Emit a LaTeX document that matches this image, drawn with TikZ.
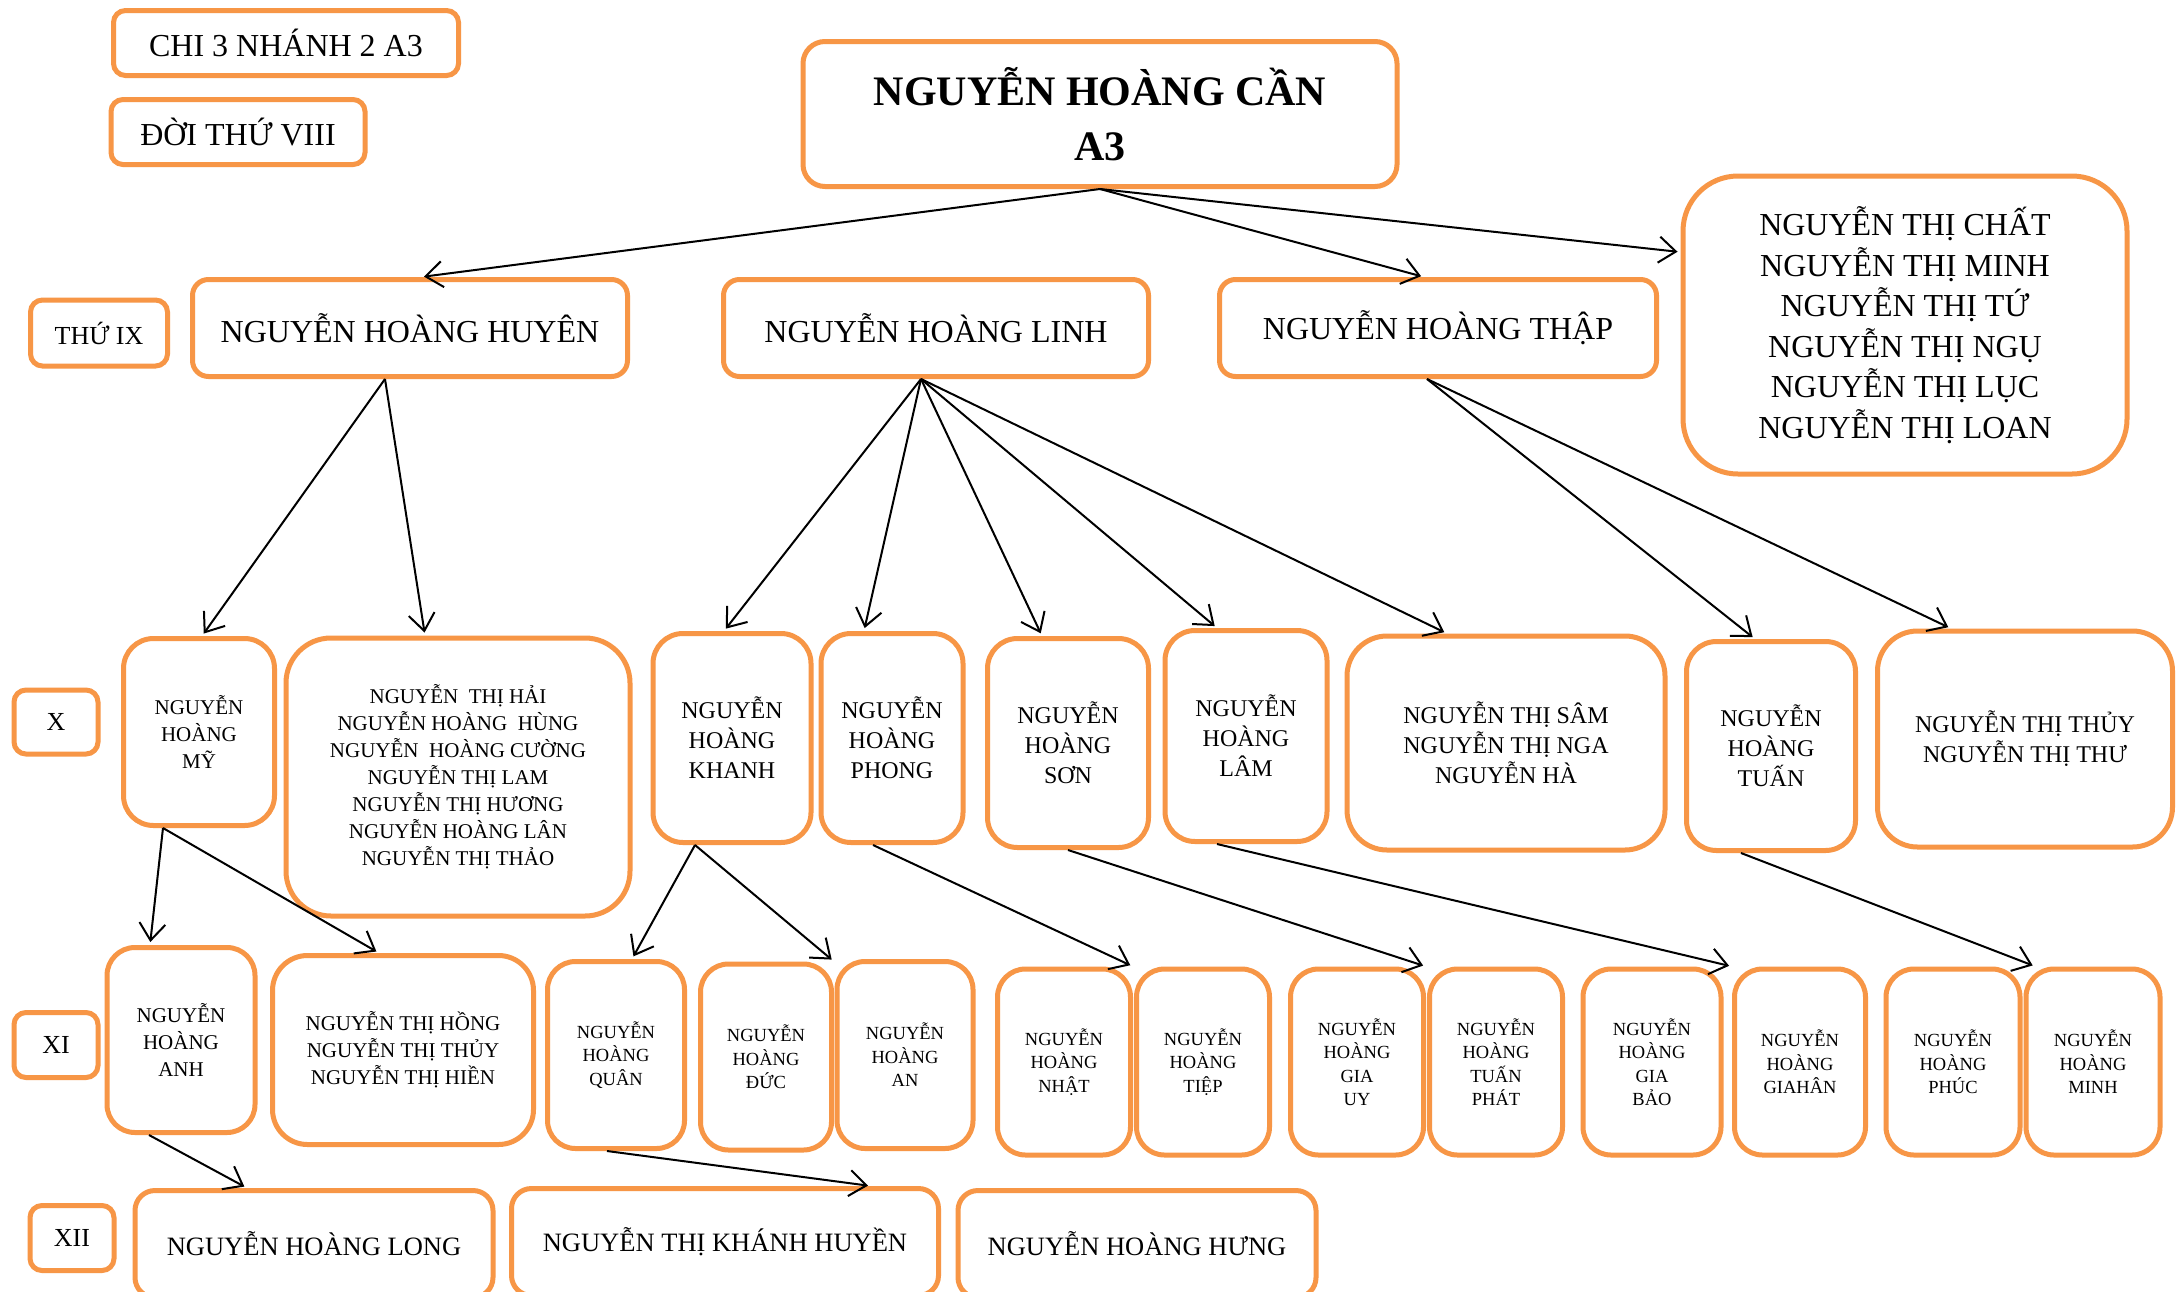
\documentclass[tikz,border=0pt]{standalone}
\usepackage{fontspec}
\setmainfont{Liberation Serif}
\usepackage{xcolor}
\usepackage{tikz}
\usetikzlibrary{positioning,arrows.meta}

\definecolor{boxorange}{HTML}{F79646}
\tikzset{
  box/.style={draw=boxorange, line width=5pt, rounded corners=#1, align=center, inner sep=2pt},
  box/.default=28pt,
  arr/.style={->, line width=2pt, shorten >=3pt},
  roottxt/.style={font=\bfseries\fontsize{42}{55}\selectfont},
  gentxt/.style={font=\fontsize{32}{40.5}\selectfont},
  lbltxt/.style={font=\fontsize{26}{32}\selectfont},
  xtxt/.style={font=\fontsize{24}{30}\selectfont},
  xstxt/.style={font=\fontsize{21}{27}\selectfont},
  xitxt/.style={font=\fontsize{18.5}{23.5}\selectfont},
  xiitxt/.style={font=\fontsize{26.5}{32}\selectfont},
}

\begin{document}
\begin{tikzpicture}[x=1pt, y=-1pt, >={Straight Barb[length=17pt,width=26pt]}]
            \path[fill=white, use as bounding box] (0,0) rectangle (2179,1291);
            \clip (0,0) rectangle (2179,1291);

            \node[box=12pt, gentxt, minimum width=345pt, minimum height=65pt] (cap) at (286,43) {CHI 3 NHÁNH 2 A3};
            \node[box=12pt, gentxt, minimum width=254pt, minimum height=65pt] (doi) at (238,132) {ĐỜI THỨ VIII};
            \node[box=22pt, roottxt, minimum width=594pt, minimum height=145pt] (root) at (1100,114) {NGUYỄN HOÀNG CẦN\\A3};
            \node[box=55pt, gentxt, minimum width=444pt, minimum height=298pt] (sisters) at (1905,325) {NGUYỄN THỊ CHẤT\\NGUYỄN THỊ MINH\\NGUYỄN THỊ TỨ\\NGUYỄN THỊ NGỤ\\NGUYỄN THỊ LỤC\\NGUYỄN THỊ LOAN};

            \node[box=12pt, lbltxt, minimum width=137pt, minimum height=66pt] (lblIX) at (99,333) {THỨ IX};
            \node[box=16pt, gentxt, minimum width=435pt, minimum height=97pt] (huyen) at (410,328) {NGUYỄN HOÀNG HUYÊN};
            \node[box=16pt, gentxt, minimum width=425pt, minimum height=97pt] (linh) at (936,328) {NGUYỄN HOÀNG LINH};
            \node[box=16pt, gentxt, minimum width=437pt, minimum height=97pt] (thap) at (1438,328) {NGUYỄN HOÀNG THẬP};

            \node[box=12pt, lbltxt, minimum width=84pt, minimum height=64pt] (lblX) at (56,722) {X};
            \node[box=30pt, xstxt, minimum width=151pt, minimum height=187pt] (my) at (199,732) {NGUYỄN\\HOÀNG\\MỸ};
            \node[box=45pt, xstxt, minimum width=344pt, minimum height=278pt] (hai) at (458,777) {NGUYỄN\ \ THỊ HẢI\\NGUYỄN HOÀNG\ \ HÙNG\\NGUYỄN\ \ HOÀNG CƯỜNG\\NGUYỄN THỊ LAM\\NGUYỄN THỊ HƯƠNG\\NGUYỄN HOÀNG LÂN\\NGUYỄN THỊ THẢO};
            \node[box=30pt, xtxt, minimum width=158pt, minimum height=209pt] (khanh) at (732,738) {NGUYỄN\\HOÀNG\\KHANH};
            \node[box=30pt, xtxt, minimum width=142pt, minimum height=209pt] (phong) at (892,738) {NGUYỄN\\HOÀNG\\PHONG};
            \node[box=30pt, xtxt, minimum width=161pt, minimum height=209pt] (son) at (1068,743) {NGUYỄN\\HOÀNG\\SƠN};
            \node[box=30pt, xtxt, minimum width=162pt, minimum height=211pt] (lam) at (1246,736) {NGUYỄN\\HOÀNG\\LÂM};
            \node[box=40pt, xtxt, minimum width=318pt, minimum height=214pt] (sam) at (1506,743) {NGUYỄN THỊ SÂM\\NGUYỄN THỊ NGA\\NGUYỄN HÀ};
            \node[box=30pt, xtxt, minimum width=169pt, minimum height=209pt] (tuan) at (1771,746) {NGUYỄN\\HOÀNG\\TUẤN};
            \node[box=40pt, xtxt, minimum width=295pt, minimum height=216pt] (thuy) at (2025,739) {NGUYỄN THỊ THỦY\\NGUYỄN THỊ THƯ};

            \node[box=12pt, lbltxt, minimum width=84pt, minimum height=65pt] (lblXI) at (56,1045) {XI};
            \node[box=28pt, xstxt, minimum width=148pt, minimum height=185pt] (anh) at (181,1040) {NGUYỄN\\HOÀNG\\ANH};
            \node[box=35pt, xstxt, minimum width=261pt, minimum height=189pt] (hong) at (403,1050) {NGUYỄN THỊ HỒNG\\NGUYỄN THỊ THỦY\\NGUYỄN THỊ HIỀN};
            \node[box, xitxt, minimum width=137pt, minimum height=187pt] (quan) at (616,1055) {NGUYỄN\\HOÀNG\\QUÂN};
            \node[box, xitxt, minimum width=131pt, minimum height=186pt] (duc) at (766,1057) {NGUYỄN\\HOÀNG\\ĐỨC};
            \node[box, xitxt, minimum width=136pt, minimum height=187pt] (an) at (905,1055) {NGUYỄN\\HOÀNG\\AN};
            \node[box, xitxt, minimum width=133pt, minimum height=186pt] (nhat) at (1064,1062) {NGUYỄN\\HOÀNG\\NHẬT};
            \node[box, xitxt, minimum width=133pt, minimum height=186pt] (tiep) at (1203,1062) {NGUYỄN\\HOÀNG\\TIỆP};
            \node[box, xitxt, minimum width=133pt, minimum height=186pt] (giauy) at (1357,1062) {NGUYỄN\\HOÀNG\\GIA\\UY};
            \node[box, xitxt, minimum width=133pt, minimum height=186pt] (tuanphat) at (1496,1062) {NGUYỄN\\HOÀNG\\TUẤN\\PHÁT};
            \node[box, xitxt, minimum width=138pt, minimum height=186pt] (giabao) at (1652,1062) {NGUYỄN\\HOÀNG\\GIA\\BẢO};
            \node[box, xitxt, minimum width=131pt, minimum height=186pt] (giahan) at (1800,1062) {NGUYỄN\\HOÀNG\\GIAHÂN};
            \node[box, xitxt, minimum width=134pt, minimum height=186pt] (phuc) at (1953,1062) {NGUYỄN\\HOÀNG\\PHÚC};
            \node[box, xitxt, minimum width=134pt, minimum height=186pt] (minh) at (2093,1062) {NGUYỄN\\HOÀNG\\MINH};

            \node[box=12pt, lbltxt, minimum width=84pt, minimum height=65pt] (lblXII) at (72,1238) {XII};
            \node[box=20pt, xiitxt, minimum width=358pt, minimum height=107pt] (long) at (314,1244) {NGUYỄN HOÀNG LONG};
            \node[box=20pt, xiitxt, minimum width=427pt, minimum height=107pt] (khuyen) at (725,1242) {NGUYỄN THỊ KHÁNH HUYỀN};
            \node[box=20pt, xiitxt, minimum width=358pt, minimum height=107pt] (hung) at (1137,1244) {NGUYỄN HOÀNG HƯNG};

            \draw[arr] (root.south) -- ([xshift=11pt]huyen.north);
            \draw[arr] (root.south) -- ([xshift=-14pt]thap.north);
            \draw[arr] (root.south) -- (sisters.162);

            \draw[arr] ([xshift=-25pt]huyen.south) -- ([xshift=3pt]my.north);
            \draw[arr] ([xshift=-25pt]huyen.south) -- ([xshift=-33pt]hai.north);
            \draw[arr] ([xshift=-15pt]linh.south) -- ([xshift=-8pt]khanh.north);
            \draw[arr] ([xshift=-15pt]linh.south) -- ([xshift=-28pt]phong.north);
            \draw[arr] ([xshift=-15pt]linh.south) -- ([xshift=-26pt]son.north);
            \draw[arr] ([xshift=-15pt]linh.south) -- ([xshift=-29pt]lam.north);
            \draw[arr] ([xshift=-15pt]linh.south) -- ([xshift=-59pt]sam.north);
            \draw[arr] ([xshift=-11pt]thap.south) -- ([xshift=-16pt]tuan.north);
            \draw[arr] ([xshift=-11pt]thap.south) -- ([xshift=-74pt]thuy.north);

            \draw[arr] ([xshift=-36pt]my.south) -- ([xshift=-31pt]anh.north);
            \draw[arr] ([xshift=-36pt]my.south) -- ([xshift=-24pt]hong.north);
            \draw[arr] ([xshift=-37pt]khanh.south) -- ([xshift=16pt]quan.north);
            \draw[arr] ([xshift=-37pt]khanh.south) -- (duc.north east);
            \draw[arr] ([xshift=-19pt]phong.south) -- (nhat.north east);
            \draw[arr] (son.south) -- (giauy.north east);
            \draw[arr] ([xshift=-29pt]lam.south) -- (giahan.north west);
            \draw[arr] ([xshift=-30pt]tuan.south) -- ([xshift=12pt]minh.north west);

            \draw[arr] ([xshift=-32pt]anh.south) -- ([xshift=-67pt]long.north);
            \draw[arr] ([xshift=-9pt]quan.south) -- ([xshift=146pt]khuyen.north);
\end{tikzpicture}
\end{document}
